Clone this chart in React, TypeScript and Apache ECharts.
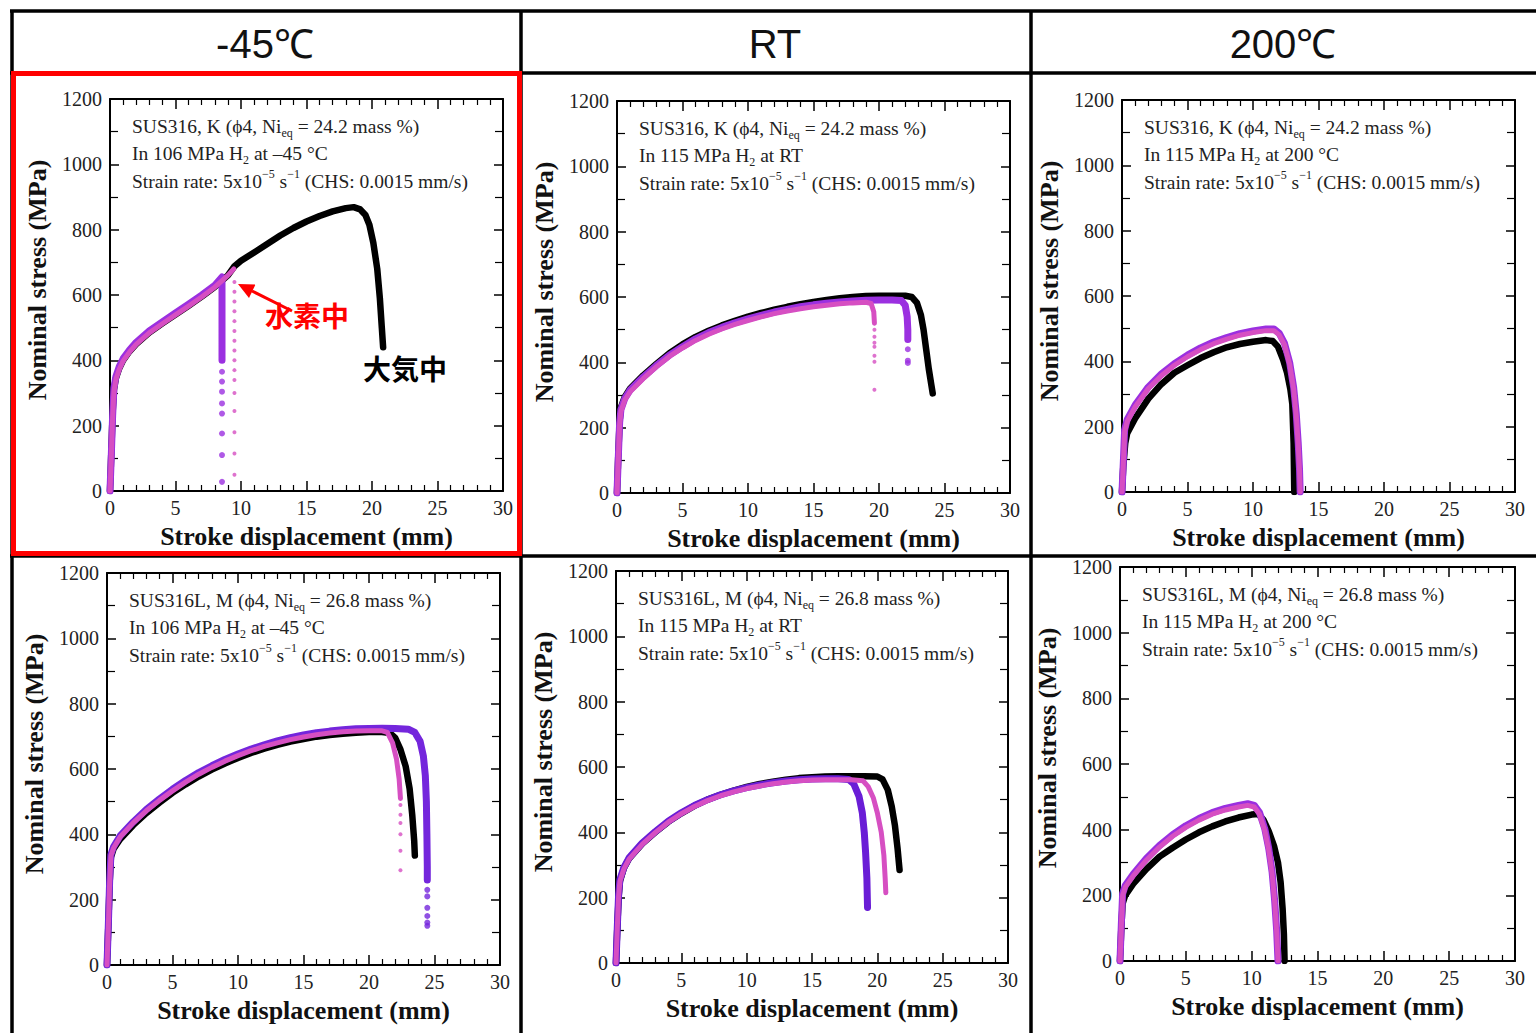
import React, { useEffect, useRef } from 'react';
import * as echarts from 'echarts';

// ---------- texts ----------
const columnHeaders = ['-45℃', 'RT', '200℃'];
const xAxisTitle = 'Stroke displacement (mm)';
const yAxisTitle = 'Nominal stress (MPa)';
const labelH2 = '水素中';
const labelAir = '大気中';

// ---------- axis ranges ----------
const X_MIN = 0, X_MAX = 30, X_STEP = 5;
const Y_MIN = 0, Y_MAX = 1200, Y_STEP = 200;

// ---------- data: [stroke mm, stress MPa] ----------
// Panel 1: SUS316 K, -45 C
const p1Air = [[0,0],[0.1,120],[0.2,240],[0.3,310],[0.45,345],[0.7,375],[1.0,400],[1.5,428],[2,450],[3,485],[4,513],[5,540],[6,567],[7,595],[8,625],[9,660],[9.5,688],[10,705],[11,730],[12,756],[13,782],[14,805],[15,825],[16,842],[17,856],[18,866],[18.6,869],[19.1,862],[19.5,845],[19.8,815],[20.1,760],[20.4,680],[20.6,590],[20.75,500],[20.85,440]];
const p1H2a = [[0,0],[0.1,110],[0.2,230],[0.3,315],[0.45,350],[0.7,380],[1.0,405],[1.5,432],[2,455],[3,490],[4,518],[5,545],[6,572],[7,600],[8,630],[8.55,655],[8.55,400]];
const p1H2aDots = [[8.55,365],[8.55,335],[8.55,304],[8.55,268],[8.55,237],[8.55,176],[8.55,110],[8.55,28]];
const p1H2b = [[0,0],[0.1,105],[0.2,225],[0.3,305],[0.45,342],[0.7,372],[1.0,398],[1.5,426],[2,449],[3,484],[4,512],[5,539],[6,566],[7,594],[8,624],[9,660],[9.45,680]];
const p1H2bDots = [[9.5,640],[9.5,610],[9.5,580],[9.5,550],[9.5,520],[9.5,490],[9.5,460],[9.5,430],[9.5,400],[9.5,370],[9.5,340],[9.5,300],[9.5,245],[9.5,180],[9.5,115],[9.5,50]];

// Panel 2: SUS316 K, RT
const p2Air = [[0,0],[0.1,120],[0.2,220],[0.3,262],[0.6,295],[1.0,320],[2,360],[3,395],[4,428],[5,455],[6,478],[7,497],[8,513],[9,527],[10,540],[11,551],[12,561],[13,570],[14,578],[15,585],[16,591],[17,596],[18,600],[19,603],[20,604],[21,604],[22,604],[22.5,600],[22.9,582],[23.2,545],[23.4,500],[23.6,440],[23.8,380],[24.0,330],[24.1,305]];
const p2H2a = [[0,0],[0.1,110],[0.2,215],[0.3,255],[0.6,290],[1.0,315],[2,355],[3,390],[4,422],[5,448],[6,472],[7,491],[8,507],[9,521],[10,533],[11,544],[12,554],[13,562],[14,570],[15,576],[16,581],[17,585],[18,588],[19,590],[20,591],[21,591],[21.7,589],[22.0,575],[22.15,540],[22.2,500],[22.2,470]];
const p2H2aDots = [[22.2,440],[22.2,405],[22.2,398]];
const p2H2b = [[0,0],[0.1,105],[0.2,210],[0.3,250],[0.6,285],[1.0,310],[2,350],[3,386],[4,418],[5,444],[6,467],[7,486],[8,502],[9,516],[10,528],[11,539],[12,549],[13,557],[14,564],[15,570],[16,575],[17,579],[18,582],[19,584],[19.4,580],[19.6,555],[19.65,520]];
const p2H2bDots = [[19.65,500],[19.65,478],[19.65,460],[19.65,448],[19.65,420],[19.65,402],[19.65,316]];

// Panel 3: SUS316 K, 200 C
const p3Air = [[0,0],[0.1,80],[0.25,150],[0.4,180],[1,225],[2,285],[3,330],[4,365],[5,388],[6,410],[7,428],[8,443],[9,453],[10,460],[11,465],[11.5,462],[11.9,445],[12.3,405],[12.6,365],[12.85,315],[13.0,270],[13.1,150],[13.15,0]];
const p3H2a = [[0,0],[0.1,90],[0.2,190],[0.4,222],[1,266],[2,321],[3,361],[4,393],[5,419],[6,441],[7,459],[8,473],[9,485],[10,493],[11,499],[11.6,499],[12.0,486],[12.4,456],[12.8,396],[13.1,321],[13.3,241],[13.45,151],[13.55,71],[13.6,0]];
const p3H2b = [[0,0],[0.1,85],[0.2,185],[0.4,216],[1,260],[2,316],[3,356],[4,388],[5,414],[6,436],[7,454],[8,468],[9,480],[10,488],[11,494],[11.6,494],[12.0,481],[12.4,451],[12.8,391],[13.1,316],[13.3,236],[13.45,146],[13.55,66],[13.6,0]];

// Panel 4: SUS316L M, -45 C
const p4Air = [[0,0],[0.1,120],[0.2,250],[0.3,330],[0.5,355],[1,385],[2,428],[3,465],[4,497],[5,527],[6,553],[7,577],[8,598],[9,617],[10,634],[11,649],[12,662],[13,674],[14,684],[15,692],[16,699],[17,704],[18,708],[19,711],[20,713],[21,713],[21.6,710],[22.0,695],[22.4,660],[22.8,608],[23.1,540],[23.3,460],[23.45,380],[23.5,335]];
const p4H2a = [[0,0],[0.1,120],[0.2,255],[0.3,338],[0.5,362],[1,395],[2,438],[3,476],[4,508],[5,538],[6,565],[7,589],[8,610],[9,629],[10,646],[11,661],[12,674],[13,686],[14,696],[15,704],[16,711],[17,716],[18,720],[19,723],[20,724],[21,725],[22,724],[23,722],[23.5,712],[23.9,685],[24.15,640],[24.3,580],[24.38,500],[24.42,400],[24.45,300],[24.45,260]];
const p4H2aDots = [[24.45,230],[24.45,210],[24.45,175],[24.45,150],[24.45,130],[24.45,120]];
const p4H2b = [[0,0],[0.1,115],[0.2,250],[0.3,335],[0.5,358],[1,392],[2,435],[3,472],[4,504],[5,533],[6,560],[7,584],[8,605],[9,624],[10,641],[11,656],[12,669],[13,680],[14,690],[15,698],[16,705],[17,710],[18,714],[19,716],[20,717],[21,717],[21.4,712],[21.8,680],[22.1,630],[22.3,570],[22.4,510]];
const p4H2bDots = [[22.4,490],[22.4,460],[22.4,435],[22.4,400],[22.4,350],[22.4,290]];

// Panel 5: SUS316L M, RT
const p5Air = [[0,0],[0.1,110],[0.2,200],[0.3,250],[0.6,290],[1,320],[2,365],[3,400],[4,432],[5,458],[6,481],[7,500],[8,515],[9,528],[10,539],[11,548],[12,555],[13,561],[14,566],[15,569],[16,571],[17,572],[18,572],[19,572],[20,571],[20.4,562],[20.8,530],[21.1,480],[21.35,420],[21.55,350],[21.7,285]];
const p5H2a = [[0,0],[0.1,110],[0.2,210],[0.3,255],[0.6,292],[1,322],[2,367],[3,402],[4,434],[5,460],[6,482],[7,500],[8,515],[9,527],[10,537],[11,545],[12,552],[13,557],[14,561],[15,563],[16,564],[17,564],[17.8,562],[18.2,548],[18.6,510],[18.85,460],[19.0,400],[19.1,340],[19.2,260],[19.25,170]];
const p5H2b = [[0,0],[0.1,108],[0.2,205],[0.3,250],[0.6,288],[1,318],[2,363],[3,399],[4,431],[5,457],[6,479],[7,497],[8,512],[9,524],[10,534],[11,542],[12,549],[13,554],[14,558],[15,560],[16,561],[17,561],[18,561],[18.9,558],[19.3,540],[19.7,505],[20.0,460],[20.3,400],[20.5,330],[20.6,260],[20.65,215]];

// Panel 6: SUS316L M, 200 C
const p6Air = [[0,0],[0.1,100],[0.2,175],[0.4,200],[1,235],[2,280],[3,318],[4,345],[5,370],[6,392],[7,410],[8,425],[9,437],[10,446],[10.5,448],[10.9,430],[11.3,395],[11.7,350],[12.0,300],[12.2,240],[12.35,160],[12.45,80],[12.5,0]];
const p6H2a = [[0,0],[0.1,110],[0.2,205],[0.4,230],[1,264],[2,312],[3,352],[4,385],[5,412],[6,434],[7,452],[8,465],[9,474],[9.7,479],[10.2,474],[10.6,452],[11.0,402],[11.3,342],[11.55,272],[11.75,182],[11.9,92],[12.0,0]];
const p6H2b = [[0,0],[0.1,106],[0.2,200],[0.4,225],[1,259],[2,307],[3,347],[4,380],[5,407],[6,429],[7,447],[8,460],[9,469],[9.7,474],[10.2,469],[10.6,447],[11.0,397],[11.3,337],[11.55,267],[11.75,177],[11.9,87],[12.0,0]];

// ---------- annotation texts ----------
const materials = [
  { name: 'SUS316, K', nieq: '24.2' },
  { name: 'SUS316L, M', nieq: '26.8' },
];
const conditions = [
  { p: '106', t: '–45 °C' },
  { p: '115', t: 'RT' },
  { p: '115', t: '200 °C' },
];

const SERIF = "'Liberation Serif', 'Times New Roman', serif";
const SANS = "'Liberation Sans', Arial, sans-serif";
const CJK = "'Noto Sans CJK JP', sans-serif";
const BLACK = '#000000';
const PINK = '#d64fc2';

const panels = [
  { left: 110, top: 99, width: 393, height: 392, mat: 0, cond: 0, air: p1Air, h2a: p1H2a, h2b: p1H2b, aDots: p1H2aDots, bDots: p1H2bDots, purple: '#9b30e0' },
  { left: 617, top: 101, width: 393, height: 392, mat: 0, cond: 1, air: p2Air, h2a: p2H2a, h2b: p2H2b, aDots: p2H2aDots, bDots: p2H2bDots, purple: '#9b30e0' },
  { left: 1122, top: 100, width: 393, height: 392, mat: 0, cond: 2, air: p3Air, h2a: p3H2a, h2b: p3H2b, aDots: [], bDots: [], purple: '#9b30e0' },
  { left: 107, top: 573, width: 393, height: 392, mat: 1, cond: 0, air: p4Air, h2a: p4H2a, h2b: p4H2b, aDots: p4H2aDots, bDots: p4H2bDots, purple: '#7426dc' },
  { left: 616, top: 571, width: 392, height: 392, mat: 1, cond: 1, air: p5Air, h2a: p5H2a, h2b: p5H2b, aDots: [], bDots: [], purple: '#6a1dd6' },
  { left: 1120, top: 567, width: 395, height: 394, mat: 1, cond: 2, air: p6Air, h2a: p6H2a, h2b: p6H2b, aDots: [], bDots: [], purple: '#9a2fe0' },
];

const richStyles = {
  n: { fontFamily: SERIF, fontSize: 19.5, fill: '#222', lineHeight: 26 },
  sub: { fontFamily: SERIF, fontSize: 12, fill: '#222', lineHeight: 13, verticalAlign: 'bottom' },
  sup: { fontFamily: SERIF, fontSize: 12, fill: '#222', lineHeight: 13, verticalAlign: 'top' },
};

function annotationLines(mat: number, cond: number) {
  const m = materials[mat];
  const c = conditions[cond];
  return [
    `{n|${m.name} (ϕ4, Ni}{sub|eq}{n| = ${m.nieq} mass %)}`,
    `{n|In ${c.p} MPa H}{sub|2}{n| at ${c.t}}`,
    `{n|Strain rate: 5x10}{sup|−5}{n| s}{sup|−1}{n| (CHS: 0.0015 mm/s)}`,
  ];
}

function buildOption() {
  const axisLine = { show: true, onZero: false, lineStyle: { color: '#000', width: 2 } };
  const labelStyle = { fontFamily: SERIF, fontSize: 20, color: '#222', formatter: (v: number) => String(v) };
  const grid: any[] = [];
  const xAxis: any[] = [];
  const yAxis: any[] = [];
  const series: any[] = [];
  const elements: any[] = [];

  panels.forEach((p, i) => {
    grid.push({ left: p.left, top: p.top, width: p.width, height: p.height, show: false, containLabel: false, outerBoundsMode: 'none' });
    const xBase = {
      type: 'value', gridIndex: i, min: X_MIN, max: X_MAX, interval: X_STEP,
      axisLine, splitLine: { show: false },
      axisTick: { show: true, inside: true, length: 10, lineStyle: { color: '#000', width: 1.5 } },
      minorTick: { show: true, splitNumber: 5, length: 6, lineStyle: { color: '#000', width: 1.2 } },
      minorSplitLine: { show: false },
    };
    xAxis.push({
      ...xBase, position: 'bottom',
      axisLabel: { show: true, margin: 7, ...labelStyle },
      name: xAxisTitle, nameLocation: 'middle', nameGap: 32,
      nameTextStyle: { fontFamily: SERIF, fontWeight: 'bold', fontSize: 26, color: '#111' },
    });
    xAxis.push({ ...xBase, position: 'top', axisLabel: { show: false } });
    const yBase = {
      type: 'value', gridIndex: i, min: Y_MIN, max: Y_MAX, interval: Y_STEP,
      axisLine, splitLine: { show: false },
      axisTick: { show: true, inside: true, length: 9, lineStyle: { color: '#000', width: 1.5 } },
      minorTick: { show: true, splitNumber: 2, length: 8, lineStyle: { color: '#000', width: 1.2 } },
      minorSplitLine: { show: false },
    };
    yAxis.push({ ...yBase, position: 'left', axisLabel: { show: true, margin: 8, ...labelStyle } });
    yAxis.push({ ...yBase, position: 'right', axisLabel: { show: false } });

    const xi = 2 * i, yi = 2 * i;
    const lineCommon = { type: 'line', xAxisIndex: xi, yAxisIndex: yi, showSymbol: false, symbol: 'none', silent: true, clip: true };
    series.push({ ...lineCommon, name: `air-${i}`, data: p.air, lineStyle: { color: BLACK, width: 6.5, cap: 'round', join: 'round' }, z: 2 });
    series.push({ ...lineCommon, name: `h2a-${i}`, data: p.h2a, lineStyle: { color: p.purple, width: 7, cap: 'round', join: 'round' }, z: 3 });
    series.push({ ...lineCommon, name: `h2b-${i}`, data: p.h2b, lineStyle: { color: PINK, width: 5, cap: 'round', join: 'round' }, z: 4 });
    if (p.aDots.length) {
      series.push({ type: 'scatter', xAxisIndex: xi, yAxisIndex: yi, data: p.aDots, symbolSize: 6, itemStyle: { color: p.purple }, silent: true, z: 3 });
    }
    if (p.bDots.length) {
      series.push({ type: 'scatter', xAxisIndex: xi, yAxisIndex: yi, data: p.bDots, symbolSize: 4, itemStyle: { color: PINK }, silent: true, z: 4 });
    }

    // y axis title
    elements.push({
      type: 'text', x: p.left - 73, y: p.top + 181, rotation: Math.PI / 2,
      style: { text: yAxisTitle, fontFamily: SERIF, fontWeight: 'bold', fontSize: 26, fill: '#111', align: 'center', verticalAlign: 'middle', textAlign: 'center', textVerticalAlign: 'middle' },
    });
    // annotation lines
    const lines = annotationLines(p.mat, p.cond);
    const offs = [27, 54, 82];
    lines.forEach((t, k) => {
      elements.push({
        type: 'text', x: p.left + 22, y: p.top + offs[k],
        style: { text: t, rich: richStyles, fontFamily: SERIF, fontSize: 19.5, fill: '#222', align: 'left', verticalAlign: 'middle', textAlign: 'left', textVerticalAlign: 'middle' },
      });
    });
  });

  // table lines
  const bl = (x1: number, y1: number, x2: number, y2: number) => ({
    type: 'line', shape: { x1, y1, x2, y2 }, style: { stroke: '#000', lineWidth: 3.5 }, z: 10,
  });
  elements.push(bl(10, 11, 1536, 11));
  elements.push(bl(12, 10, 12, 1033));
  elements.push(bl(521, 10, 521, 1033));
  elements.push(bl(1031, 10, 1031, 1033));
  elements.push(bl(10, 73, 1536, 73));
  elements.push(bl(10, 556, 1536, 556));
  elements.push({ type: 'rect', shape: { x: 13.5, y: 73.5, width: 506, height: 480 }, style: { stroke: '#ff0000', lineWidth: 5, fill: 'none' }, z: 11 });

  // headers
  const headerX = [265, 775, 1283];
  columnHeaders.forEach((h, k) => {
    elements.push({
      type: 'text', x: headerX[k], y: 44,
      style: { text: h, fontFamily: SANS, fontSize: 40, fill: '#111', align: 'center', verticalAlign: 'middle', textAlign: 'center', textVerticalAlign: 'middle' },
    });
  });

  // Japanese labels + arrow (panel 1)
  elements.push({
    type: 'text', x: 307, y: 315, z: 12,
    style: { text: labelH2, fontFamily: CJK, fontWeight: 'bold', fontSize: 28, fill: '#ff0000', align: 'center', verticalAlign: 'middle', textAlign: 'center', textVerticalAlign: 'middle' },
  });
  elements.push({
    type: 'text', x: 405, y: 368, z: 12,
    style: { text: labelAir, fontFamily: CJK, fontWeight: 'bold', fontSize: 28, fill: '#000', align: 'center', verticalAlign: 'middle', textAlign: 'center', textVerticalAlign: 'middle' },
  });
  elements.push({ type: 'line', shape: { x1: 292, y1: 311, x2: 252, y2: 291 }, style: { stroke: '#ff0000', lineWidth: 3 }, z: 11 });
  elements.push({ type: 'polygon', shape: { points: [[238, 284], [255.5, 284.5], [249, 298]] }, style: { fill: '#ff0000' }, z: 11 });

  return {
    animation: false,
    backgroundColor: '#ffffff',
    grid, xAxis, yAxis, series,
    graphic: { elements },
  };
}

export default function App() {
  const ref = useRef<HTMLDivElement>(null);
  useEffect(() => {
    if (!ref.current) return;
    const chart = echarts.init(ref.current, undefined, { renderer: 'svg' });
    chart.setOption(buildOption() as any);
    return () => chart.dispose();
  }, []);
  return <div ref={ref} style={{ position: 'absolute', left: 0, top: 0, width: 1536, height: 1033 }} />;
}
